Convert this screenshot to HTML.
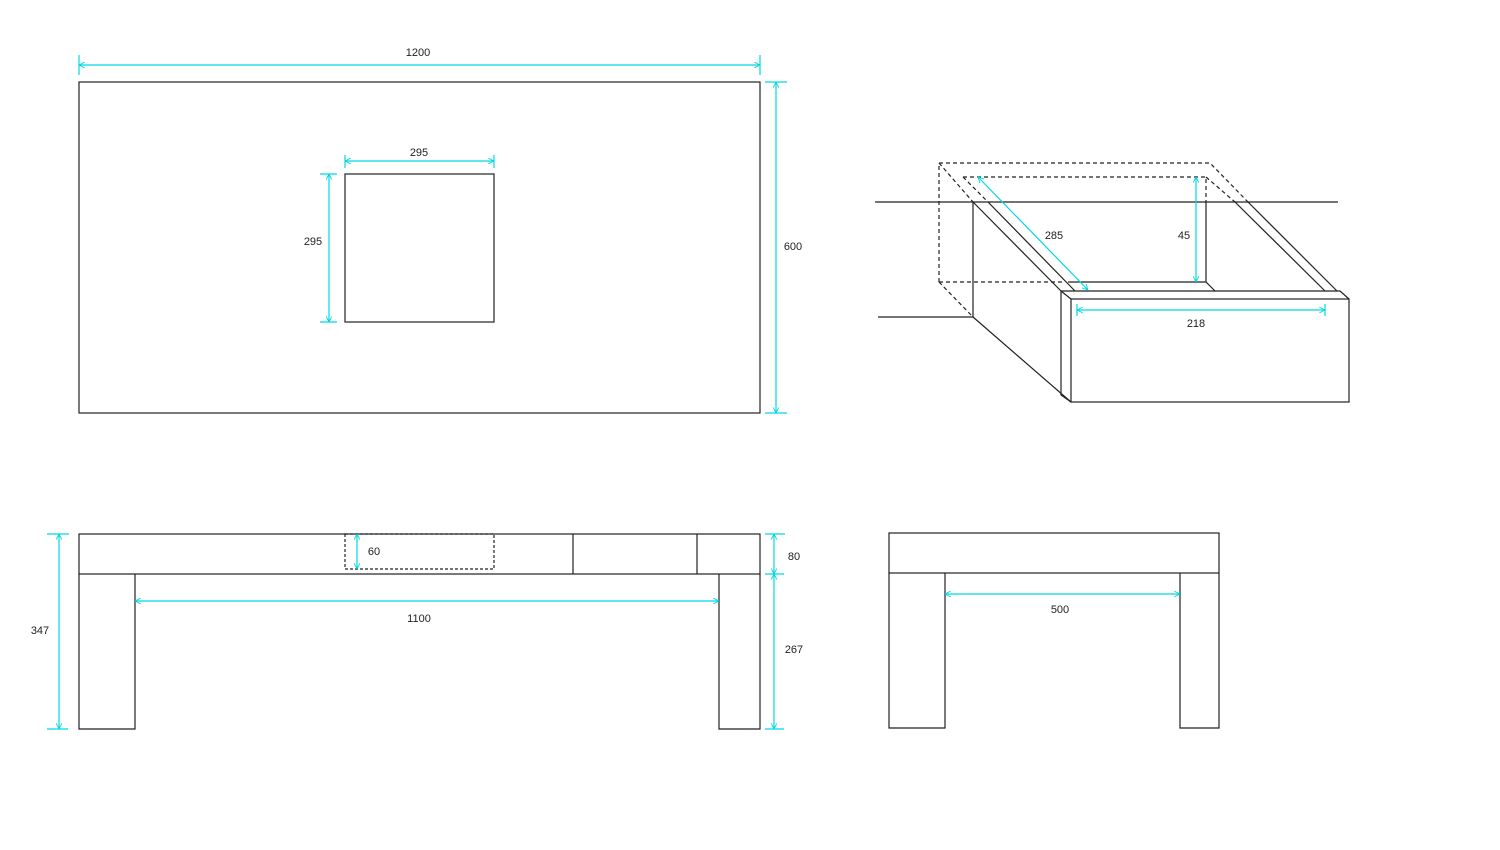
<!DOCTYPE html>
<html><head><meta charset="utf-8"><style>html,body{margin:0;padding:0;background:#fff}svg{display:block}text{font-family:"Liberation Sans",sans-serif;font-size:11px;fill:#222}</style></head><body>
<svg width="1500" height="850" viewBox="0 0 1500 850" xmlns="http://www.w3.org/2000/svg">
<defs>
<marker id="a" viewBox="0 0 10 10" refX="10" refY="5" markerWidth="7" markerHeight="7" orient="auto-start-reverse" markerUnits="userSpaceOnUse"><path d="M2,1 L10,5 L2,9" fill="none" stroke="#00d8e0" stroke-width="1.3"/></marker>
</defs>
<g fill="none" stroke="#222" stroke-width="1.2">
<!-- top view -->
<rect x="79" y="82" width="681" height="331"/>
<rect x="345" y="174" width="149" height="148"/>
<!-- front view -->
<rect x="79" y="534" width="681" height="40"/>
<line x1="573" y1="534" x2="573" y2="574"/><line x1="697" y1="534" x2="697" y2="574"/>
<path d="M79,574 V729 H135 V574"/><path d="M719,574 V729 H760 V574"/>
<rect x="345" y="534" width="149" height="35" stroke-dasharray="3,2"/>
<!-- side view -->
<rect x="889" y="533" width="330" height="40"/>
<path d="M889,573 V728 H945 V573"/><path d="M1180,573 V728 H1219 V573"/>
<!-- iso -->
<line x1="875" y1="202" x2="1338" y2="202"/>
<line x1="878" y1="317" x2="973" y2="317"/>
<line x1="973" y1="202" x2="973" y2="317"/>
<line x1="973" y1="317" x2="1071" y2="402"/>
<rect x="1071" y="299" width="278" height="103"/>
<path d="M1061,291 V395 L1071,402"/>
<path d="M1061,291 H1340 L1349,299"/>
<line x1="1061" y1="291" x2="1071" y2="299"/>
<line x1="973" y1="202" x2="1061" y2="291"/>
<line x1="988" y1="202" x2="1075" y2="291"/>
<path d="M1068,282 H1206 L1215,291"/>
<line x1="1206" y1="202" x2="1206" y2="282"/>
<line x1="1235" y1="202" x2="1325" y2="291"/>
<line x1="1248" y1="202" x2="1337" y2="291"/>
<g stroke-dasharray="4,3">
<path d="M939,282 V163 H1210 L1248,202"/>
<path d="M963,177 H1206 V202"/>
<line x1="1206" y1="177" x2="1235" y2="202"/>
<line x1="939" y1="163" x2="973" y2="202"/>
<line x1="963" y1="177" x2="988" y2="202"/>
<line x1="939" y1="282" x2="1063" y2="282"/>
<line x1="939" y1="282" x2="973" y2="317"/>
</g>
</g>
<g stroke="#00d8e0" stroke-width="1.2" fill="none">
<line x1="79" y1="65" x2="760" y2="65" marker-start="url(#a)" marker-end="url(#a)"/>
<line x1="79" y1="55" x2="79" y2="75"/><line x1="760" y1="55" x2="760" y2="75"/>
<line x1="776" y1="82" x2="776" y2="413" marker-start="url(#a)" marker-end="url(#a)"/>
<line x1="765" y1="82" x2="787" y2="82"/><line x1="765" y1="413" x2="787" y2="413"/>
<line x1="345" y1="161" x2="494" y2="161" marker-start="url(#a)" marker-end="url(#a)"/>
<line x1="345" y1="155" x2="345" y2="168"/><line x1="494" y1="155" x2="494" y2="168"/>
<line x1="329" y1="174" x2="329" y2="322" marker-start="url(#a)" marker-end="url(#a)"/>
<line x1="320" y1="174" x2="337" y2="174"/><line x1="320" y1="322" x2="337" y2="322"/>
<line x1="59" y1="534" x2="59" y2="729" marker-start="url(#a)" marker-end="url(#a)"/>
<line x1="47" y1="534" x2="69" y2="534"/><line x1="47" y1="729" x2="68" y2="729"/>
<line x1="357" y1="534" x2="357" y2="569" marker-start="url(#a)" marker-end="url(#a)"/>
<line x1="135" y1="601" x2="719" y2="601" marker-start="url(#a)" marker-end="url(#a)"/>
<line x1="774" y1="534" x2="774" y2="574" marker-start="url(#a)" marker-end="url(#a)"/>
<line x1="774" y1="574" x2="774" y2="729" marker-start="url(#a)" marker-end="url(#a)"/>
<line x1="765" y1="534" x2="785" y2="534"/><line x1="765" y1="574" x2="784" y2="574"/><line x1="765" y1="729" x2="784" y2="729"/>
<line x1="945" y1="594" x2="1180" y2="594" marker-start="url(#a)" marker-end="url(#a)"/>
<line x1="978" y1="177" x2="1088" y2="290" marker-start="url(#a)" marker-end="url(#a)"/>
<line x1="1196" y1="177" x2="1196" y2="282" marker-start="url(#a)" marker-end="url(#a)"/>
<line x1="1077" y1="310" x2="1325" y2="310" marker-start="url(#a)" marker-end="url(#a)"/>
<line x1="1077" y1="304" x2="1077" y2="316"/><line x1="1325" y1="304" x2="1325" y2="316"/>
</g>
<text x="418" y="56" text-anchor="middle">1200</text>
<text x="793" y="250" text-anchor="middle">600</text>
<text x="419" y="156" text-anchor="middle">295</text>
<text x="313" y="245" text-anchor="middle">295</text>
<text x="374" y="555" text-anchor="middle">60</text>
<text x="419" y="622" text-anchor="middle">1100</text>
<text x="40" y="634" text-anchor="middle">347</text>
<text x="794" y="560" text-anchor="middle">80</text>
<text x="794" y="653" text-anchor="middle">267</text>
<text x="1060" y="613" text-anchor="middle">500</text>
<text x="1054" y="239" text-anchor="middle">285</text>
<text x="1184" y="239" text-anchor="middle">45</text>
<text x="1196" y="327" text-anchor="middle">218</text>
</svg>
</body></html>
